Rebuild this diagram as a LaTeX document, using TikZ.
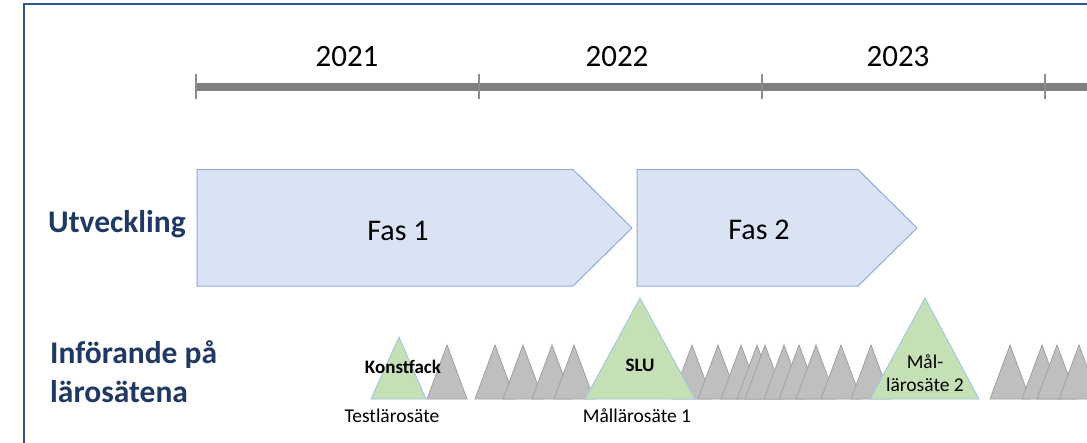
\documentclass[tikz,border=0pt]{standalone}
\usepackage{fontspec}
\setmainfont{Carlito}
\definecolor{frameblue}{RGB}{47,85,151}
\definecolor{labelblue}{RGB}{31,56,100}
\definecolor{axisgray}{RGB}{127,127,127}
\definecolor{tickgray}{RGB}{140,140,140}
\definecolor{phasefill}{RGB}{218,227,243}
\definecolor{phasedraw}{RGB}{143,170,220}
\definecolor{greenfill}{RGB}{197,224,180}
\definecolor{greendraw}{RGB}{157,195,230}
\definecolor{greyfill}{RGB}{191,191,191}
\definecolor{greydraw}{RGB}{160,160,160}
\tikzset{
  phase/.style={fill=phasefill, draw=phasedraw, line width=1},
  greytri/.style={fill=greyfill, draw=greydraw, line width=0.8},
  greentri/.style={fill=greenfill, draw=greendraw, line width=0.8},
  yearlbl/.style={anchor=base, font=\fontsize{31}{37}\selectfont},
  phaselbl/.style={anchor=base, font=\fontsize{30}{36}\selectfont},
  rowlbl/.style={anchor=base west, text=labelblue, font=\fontsize{31.5}{38}\selectfont\bfseries, inner sep=0},
  smallbold/.style={anchor=base, font=\fontsize{19}{23}\selectfont\bfseries, inner sep=0},
  smalllbl/.style={anchor=base, font=\fontsize{19.5}{23}\selectfont, inner sep=0}
}
\begin{document}
\begin{tikzpicture}[x=1pt,y=-1pt]
\useasboundingbox (0,0) rectangle (1087,442);
\begin{scope}
\clip (0,0) rectangle (1087,442);
% frame
\draw[frameblue, line width=2.6] (24,460) -- (24,4) -- (1100,4);
% axis
\draw[axisgray, line width=8] (196,87) -- (1100,87);
\foreach \tx in {196,479,762,1045}
  \draw[tickgray, line width=1.3] (\tx,74) -- (\tx,99);
\node[yearlbl] (y2021) at (347,66.5) {2021};
\node[yearlbl] (y2022) at (617,66.5) {2022};
\node[yearlbl] (y2023) at (898,66.5) {2023};
% phases
\draw[phase] (197,169.5) -- (573,169.5) -- (632,228) -- (573,286) -- (197,286) -- cycle;
\draw[phase] (637,169.5) -- (858,169.5) -- (917,228) -- (858,286) -- (637,286) -- cycle;
\node[phaselbl] (fas1) at (398,240) {Fas 1};
\node[phaselbl] (fas2) at (759,239) {Fas 2};
% row labels
\node[rowlbl] (utv) at (48,232) {Utveckling};
\node[rowlbl] (inf1) at (50,363) {Införande på};
\node[rowlbl] (inf2) at (50,402) {lärosätena};
% grey triangles
\foreach \ax in {447,495,523,552,574,692,718,741,757,765,784,799,816,841,871,1010,1042,1057,1079}
  \draw[greytri] (\ax-20,399) -- (\ax,345) -- (\ax+20,399) -- cycle;
% green triangles
\draw[greentri] (371,399) -- (399,337) -- (426,399) -- cycle;
\draw[greentri] (585,399) -- (640,298) -- (695,399) -- cycle;
\draw[greentri] (870,399) -- (925,298) -- (979,399) -- cycle;
% labels
\node[smallbold] (konst) at (403,373) {Konstfack};
\node[smallbold] (slu) at (640,371) {SLU};
\node[smalllbl] (mal2a) at (925,368) {Mål-};
\node[smalllbl] (mal2b) at (925,391) {lärosäte 2};
\node[smalllbl] (test) at (392,422) {Testlärosäte};
\node[smalllbl] (mal1) at (637,422) {Mållärosäte 1};
\end{scope}
\end{tikzpicture}
\end{document}
